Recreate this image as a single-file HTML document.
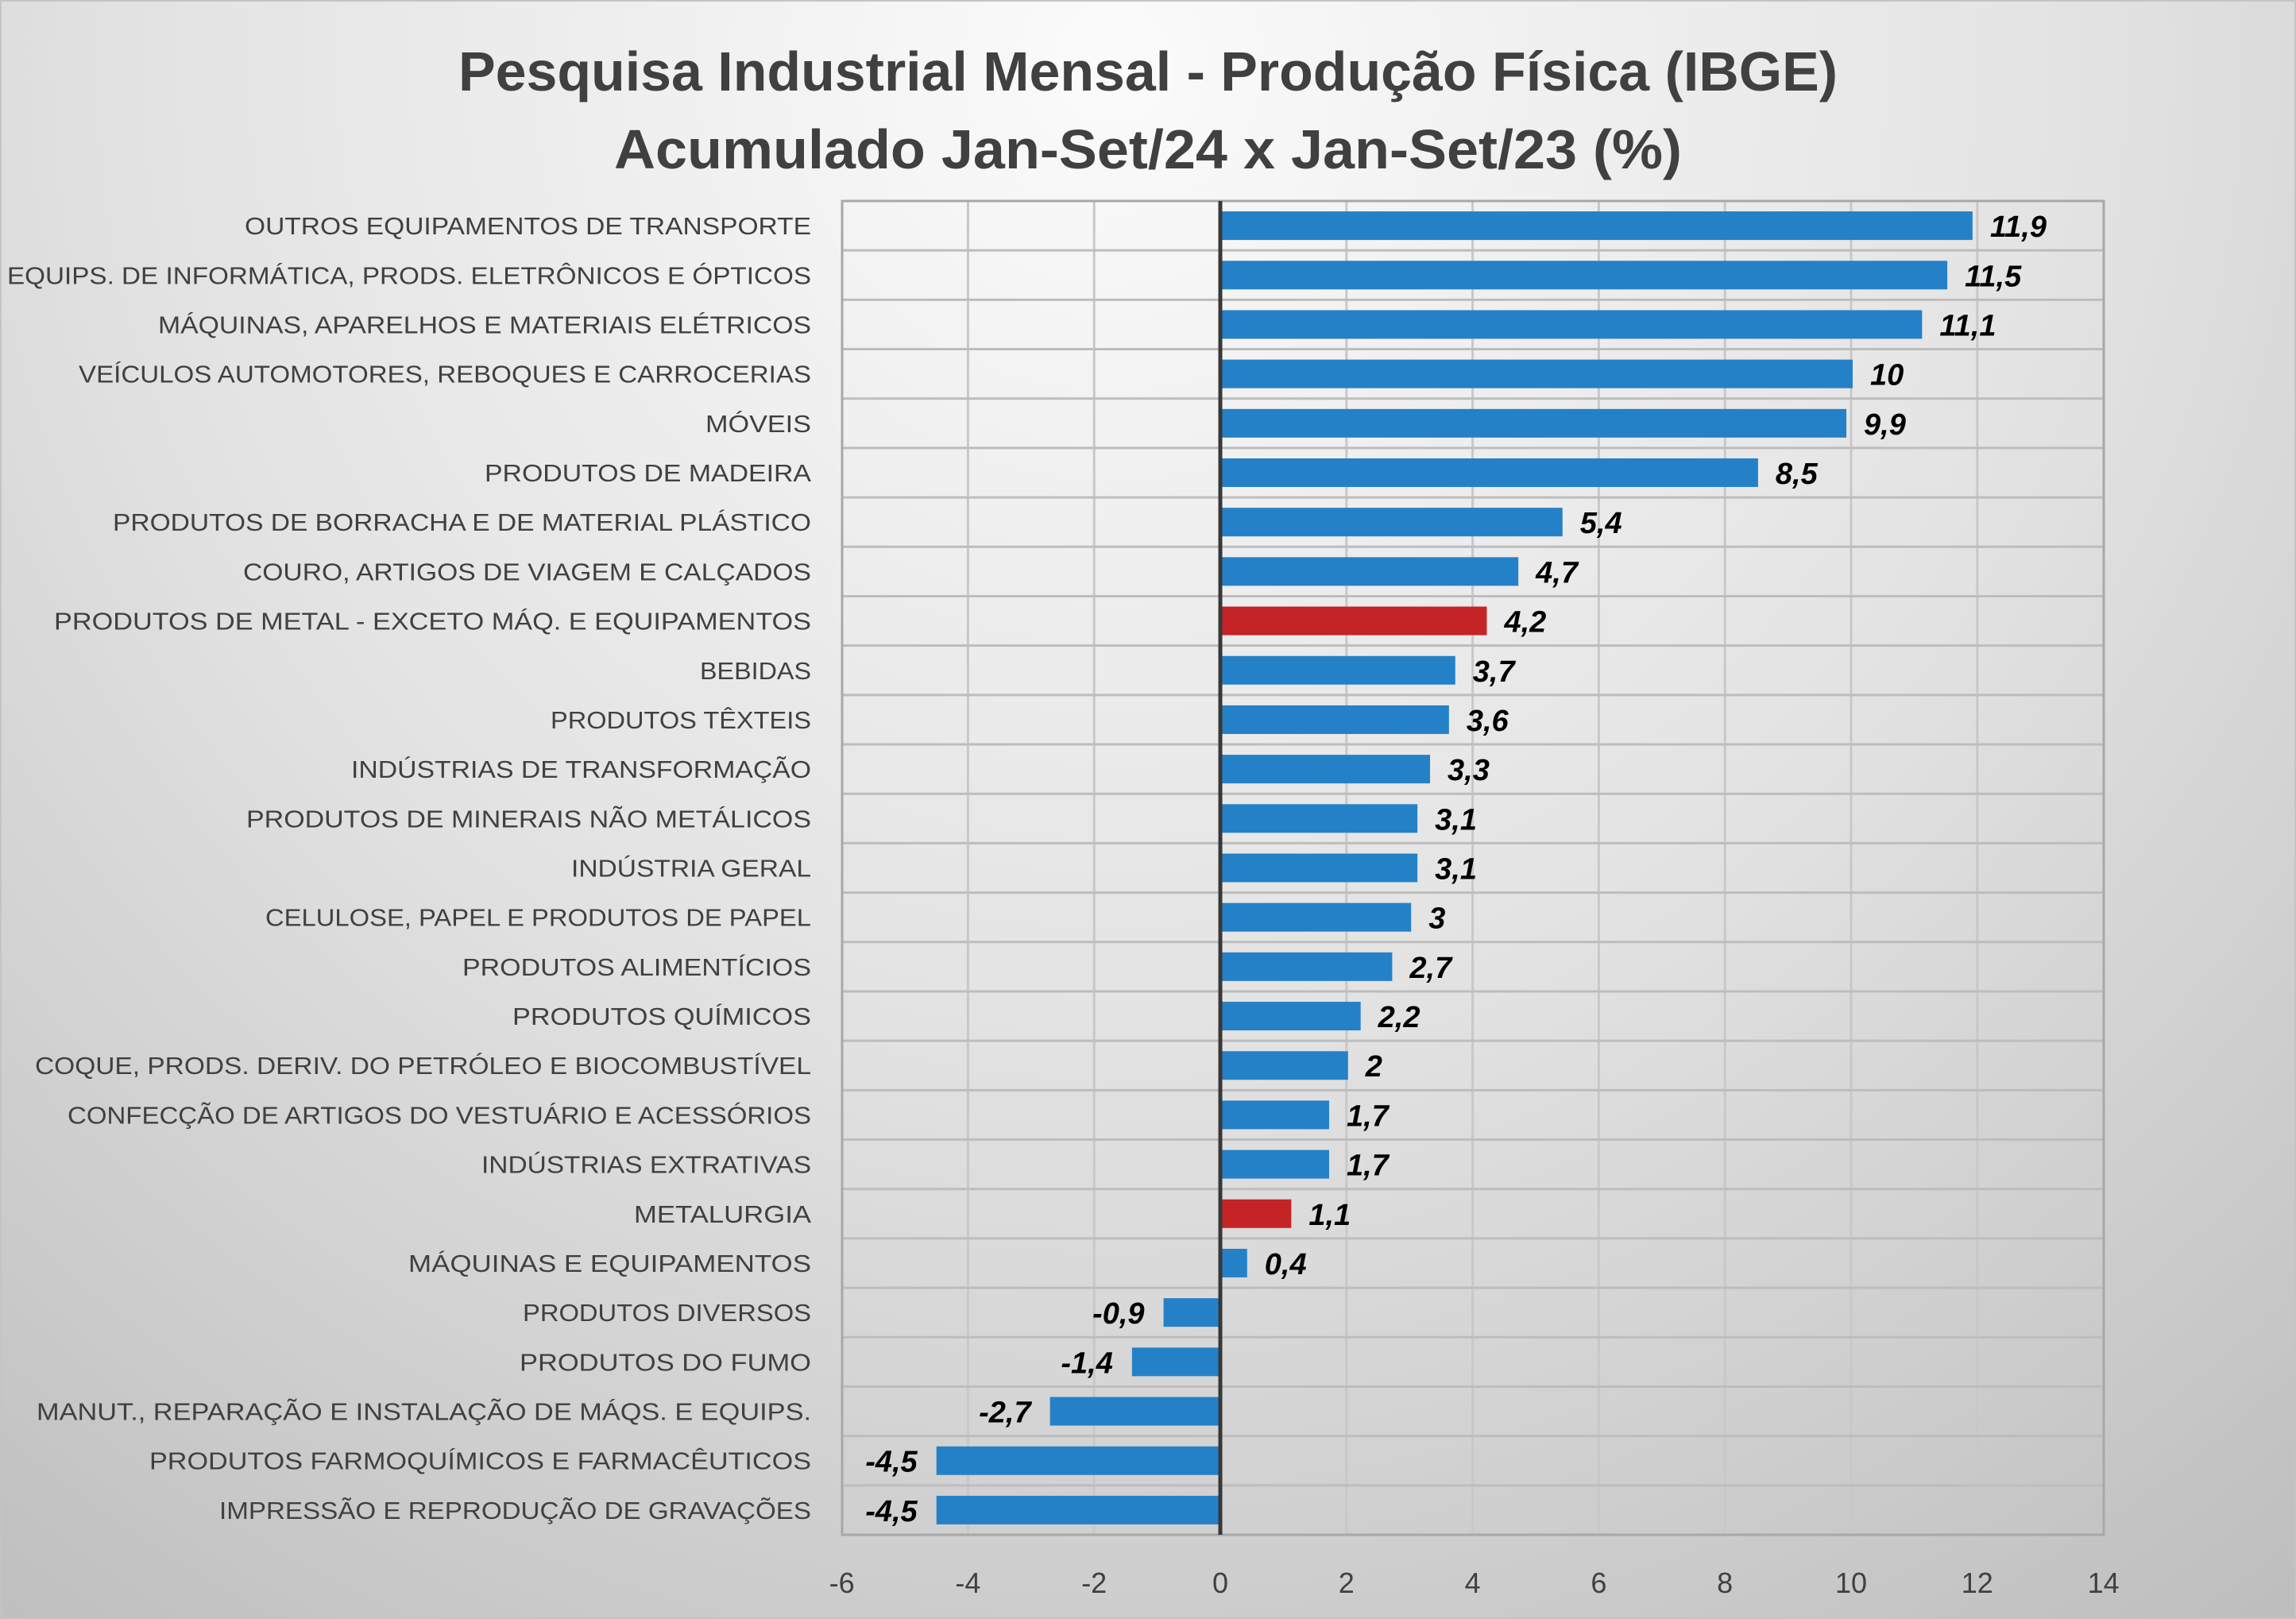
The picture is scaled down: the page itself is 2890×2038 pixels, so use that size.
<!DOCTYPE html>
<html><head><meta charset="utf-8"><style>html,body{margin:0;padding:0}svg{display:block}</style></head><body>
<svg width="2890" height="2038" viewBox="0 0 2890 2038" xmlns="http://www.w3.org/2000/svg">
<defs>
<radialGradient id="bg" cx="1400" cy="80" r="2500" gradientUnits="userSpaceOnUse">
<stop offset="0" stop-color="#fbfbfb"/><stop offset="0.5" stop-color="#e2e2e2"/><stop offset="1" stop-color="#bcbcbc"/>
</radialGradient>
</defs>
<rect width="2890" height="2038" fill="url(#bg)"/>
<rect x="1" y="1" width="2888" height="2036" fill="none" stroke="#c4c4c4" stroke-width="2"/>
<g font-family="Liberation Sans, sans-serif" font-weight="bold" fill="#404040" font-size="70" text-anchor="middle">
<text x="1445" y="114" textLength="1736" lengthAdjust="spacingAndGlyphs">Pesquisa Industrial Mensal - Produção Física (IBGE)</text>
<text x="1445" y="212" textLength="1344" lengthAdjust="spacingAndGlyphs">Acumulado Jan-Set/24 x Jan-Set/23 (%)</text>
</g>
<g id="vgrid" stroke="#c8c8c8" stroke-width="3"></g>
<g id="grid" stroke="#bdbdbd" stroke-width="3"></g>
<g id="bars"></g>
<g id="labels" font-family="Liberation Sans, sans-serif" font-size="31" fill="#404040" text-anchor="end"></g>
<g id="vals" font-family="Liberation Sans, sans-serif" font-size="38" font-weight="bold" font-style="italic" fill="#000"></g>
<rect x="1060" y="253" width="1588" height="1679" fill="none" stroke="#a8a8a8" stroke-width="3"/>
<line x1="1536" y1="253" x2="1536" y2="1932" stroke="#383838" stroke-width="5"/>
<g id="ticks" font-family="Liberation Sans, sans-serif" font-size="36" fill="#404040" text-anchor="middle"></g>
<script>
var d=[["OUTROS EQUIPAMENTOS DE TRANSPORTE",11.9,167],["EQUIPS. DE INFORMÁTICA, PRODS. ELETRÔNICOS E ÓPTICOS",11.5,5],["MÁQUINAS, APARELHOS E MATERIAIS ELÉTRICOS",11.1,108],["VEÍCULOS AUTOMOTORES, REBOQUES E CARROCERIAS",10,54],["MÓVEIS",9.9,482],["PRODUTOS DE MADEIRA",8.5,331],["PRODUTOS DE BORRACHA E DE MATERIAL PLÁSTICO",5.4,77],["COURO, ARTIGOS DE VIAGEM E CALÇADOS",4.7,166],["PRODUTOS DE METAL - EXCETO MÁQ. E EQUIPAMENTOS",4.2,37,1],["BEBIDAS",3.7,478],["PRODUTOS TÊXTEIS",3.6,376],["INDÚSTRIAS DE TRANSFORMAÇÃO",3.3,240],["PRODUTOS DE MINERAIS NÃO METÁLICOS",3.1,168],["INDÚSTRIA GERAL",3.1,390],["CELULOSE, PAPEL E PRODUTOS DE PAPEL",3,181],["PRODUTOS ALIMENTÍCIOS",2.7,316],["PRODUTOS QUÍMICOS",2.2,350],["COQUE, PRODS. DERIV. DO PETRÓLEO E BIOCOMBUSTÍVEL",2,24],["CONFECÇÃO DE ARTIGOS DO VESTUÁRIO E ACESSÓRIOS",1.7,46],["INDÚSTRIAS EXTRATIVAS",1.7,329],["METALURGIA",1.1,433,1],["MÁQUINAS E EQUIPAMENTOS",0.4,279],["PRODUTOS DIVERSOS",-0.9,357],["PRODUTOS DO FUMO",-1.4,355],["MANUT., REPARAÇÃO E INSTALAÇÃO DE MÁQS. E EQUIPS.",-2.7,25],["PRODUTOS FARMOQUÍMICOS E FARMACÊUTICOS",-4.5,102],["IMPRESSÃO E REPRODUÇÃO DE GRAVAÇÕES",-4.5,150]];
var NS="http://www.w3.org/2000/svg",rh=1679/27,u=79.4,z=1536;
function el(p,t,a,tx){var e=document.createElementNS(NS,t);for(var k in a)e.setAttribute(k,a[k]);if(tx!=null)e.textContent=tx;document.getElementById(p).appendChild(e);}
for(var k=-6;k<=14;k+=2){var x=z+k*u;if(k>-6&&k<14&&k!=0)el("vgrid","line",{x1:x,x2:x,y1:253,y2:1932});el("ticks","text",{x:x,y:2005},String(k));}
for(var i=1;i<27;i++){var y=253+rh*i;el("grid","line",{x1:1060,x2:2648,y1:y,y2:y});}
d.forEach(function(r,i){var cy=253+rh*(i+0.5),v=r[1],x1=z+Math.min(0,v)*u,w=Math.abs(v)*u;
el("bars","rect",{x:v<0?x1:z+2,y:cy-18,width:v<0?w-2:w,height:36,fill:r[3]?"#c42426":"#2581c7"});
el("labels","text",{x:1021,y:cy+11,textLength:((554-r[2])*1.843).toFixed(0),lengthAdjust:"spacingAndGlyphs"},r[0]);
var s=String(v).replace(".",",");
if(v>=0)el("vals","text",{x:z+v*u+24,y:cy+14},s);else el("vals","text",{x:x1-24,y:cy+14,"text-anchor":"end"},s);});
</script>
</svg>
</body></html>
